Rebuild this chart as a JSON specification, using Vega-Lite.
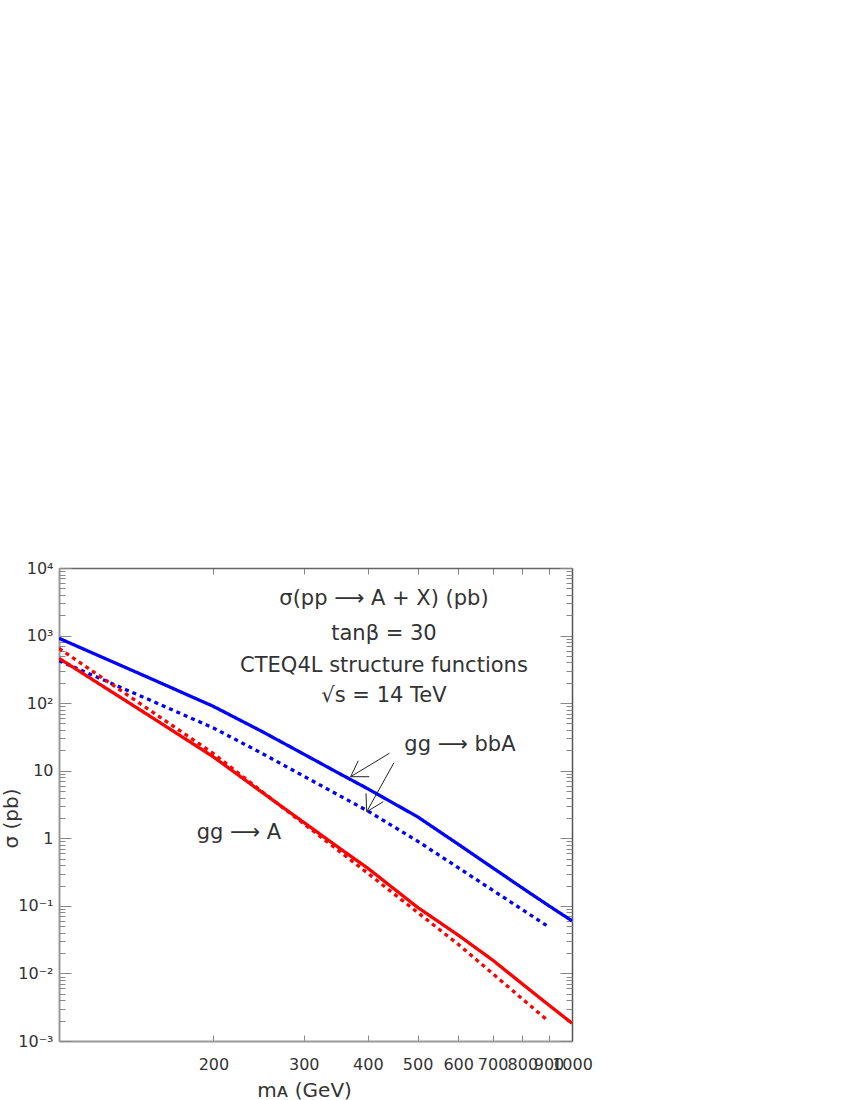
{
  "$schema": "https://vega.github.io/schema/vega-lite/v6.json",
  "width": 513,
  "height": 473,
  "autosize": {"type": "none"},
  "padding": {"left": 59, "top": 568, "right": 278, "bottom": 59},
  "background": "white",
  "config": {
    "view": {"stroke": null},
    "font": "DejaVu Sans",
    "axis": {"grid": false, "labelFont": "DejaVu Sans", "titleFont": "DejaVu Sans"}
  },
  "datasets": {
    "curves": [
      {"series": "bbA_total", "process": "bbA", "style": "solid", "m": 100, "s": 912},
      {"series": "bbA_total", "process": "bbA", "style": "solid", "m": 150, "s": 236},
      {"series": "bbA_total", "process": "bbA", "style": "solid", "m": 200, "s": 89.5},
      {"series": "bbA_total", "process": "bbA", "style": "solid", "m": 250, "s": 37.3},
      {"series": "bbA_total", "process": "bbA", "style": "solid", "m": 300, "s": 17.6},
      {"series": "bbA_total", "process": "bbA", "style": "solid", "m": 350, "s": 9.3},
      {"series": "bbA_total", "process": "bbA", "style": "solid", "m": 400, "s": 5.4},
      {"series": "bbA_total", "process": "bbA", "style": "solid", "m": 500, "s": 2.08},
      {"series": "bbA_total", "process": "bbA", "style": "solid", "m": 600, "s": 0.817},
      {"series": "bbA_total", "process": "bbA", "style": "solid", "m": 700, "s": 0.367},
      {"series": "bbA_total", "process": "bbA", "style": "solid", "m": 800, "s": 0.184},
      {"series": "bbA_total", "process": "bbA", "style": "solid", "m": 900, "s": 0.101},
      {"series": "bbA_total", "process": "bbA", "style": "solid", "m": 1000, "s": 0.06},
      {"series": "bbA_dot", "process": "bbA", "style": "dotted", "m": 100, "s": 425},
      {"series": "bbA_dot", "process": "bbA", "style": "dotted", "m": 150, "s": 112},
      {"series": "bbA_dot", "process": "bbA", "style": "dotted", "m": 200, "s": 42.9},
      {"series": "bbA_dot", "process": "bbA", "style": "dotted", "m": 250, "s": 17.7},
      {"series": "bbA_dot", "process": "bbA", "style": "dotted", "m": 300, "s": 8.3},
      {"series": "bbA_dot", "process": "bbA", "style": "dotted", "m": 350, "s": 4.39},
      {"series": "bbA_dot", "process": "bbA", "style": "dotted", "m": 400, "s": 2.53},
      {"series": "bbA_dot", "process": "bbA", "style": "dotted", "m": 500, "s": 0.908},
      {"series": "bbA_dot", "process": "bbA", "style": "dotted", "m": 600, "s": 0.367},
      {"series": "bbA_dot", "process": "bbA", "style": "dotted", "m": 700, "s": 0.171},
      {"series": "bbA_dot", "process": "bbA", "style": "dotted", "m": 800, "s": 0.088},
      {"series": "bbA_dot", "process": "bbA", "style": "dotted", "m": 900, "s": 0.049},
      {"series": "A_total", "process": "A", "style": "solid", "m": 100, "s": 461},
      {"series": "A_total", "process": "A", "style": "solid", "m": 150, "s": 65},
      {"series": "A_total", "process": "A", "style": "solid", "m": 200, "s": 16.0},
      {"series": "A_total", "process": "A", "style": "solid", "m": 250, "s": 4.66},
      {"series": "A_total", "process": "A", "style": "solid", "m": 300, "s": 1.72},
      {"series": "A_total", "process": "A", "style": "solid", "m": 350, "s": 0.738},
      {"series": "A_total", "process": "A", "style": "solid", "m": 400, "s": 0.36},
      {"series": "A_total", "process": "A", "style": "solid", "m": 500, "s": 0.095},
      {"series": "A_total", "process": "A", "style": "solid", "m": 600, "s": 0.0369},
      {"series": "A_total", "process": "A", "style": "solid", "m": 700, "s": 0.0158},
      {"series": "A_total", "process": "A", "style": "solid", "m": 800, "s": 0.007},
      {"series": "A_total", "process": "A", "style": "solid", "m": 900, "s": 0.00343},
      {"series": "A_total", "process": "A", "style": "solid", "m": 1000, "s": 0.00183},
      {"series": "A_dot", "process": "A", "style": "dotted", "m": 100, "s": 648},
      {"series": "A_dot", "process": "A", "style": "dotted", "m": 150, "s": 79.4},
      {"series": "A_dot", "process": "A", "style": "dotted", "m": 200, "s": 17.9},
      {"series": "A_dot", "process": "A", "style": "dotted", "m": 250, "s": 4.77},
      {"series": "A_dot", "process": "A", "style": "dotted", "m": 300, "s": 1.64},
      {"series": "A_dot", "process": "A", "style": "dotted", "m": 350, "s": 0.664},
      {"series": "A_dot", "process": "A", "style": "dotted", "m": 400, "s": 0.303},
      {"series": "A_dot", "process": "A", "style": "dotted", "m": 500, "s": 0.08},
      {"series": "A_dot", "process": "A", "style": "dotted", "m": 600, "s": 0.027},
      {"series": "A_dot", "process": "A", "style": "dotted", "m": 700, "s": 0.01},
      {"series": "A_dot", "process": "A", "style": "dotted", "m": 800, "s": 0.0042},
      {"series": "A_dot", "process": "A", "style": "dotted", "m": 890, "s": 0.00211}
    ],
    "infotext": [
      {"m": 430, "s": 2834, "label": "σ(pp  ⟶  A + X) (pb)"},
      {"m": 430, "s": 860, "label": "tanβ = 30"},
      {"m": 430, "s": 292, "label": "CTEQ4L structure functions"},
      {"m": 430, "s": 105, "label": "√s = 14 TeV"}
    ],
    "proclabels": [
      {"m": 604.7, "s": 19.6, "label": "gg  ⟶  bbA"},
      {"m": 224.3, "s": 0.976, "label": "gg  ⟶  A"}
    ],
    "arrows": [
      {"m1": 440.5, "s1": 18.1, "m2": 370.3, "s2": 8.15},
      {"m1": 370.3, "s1": 8.15, "m2": 383.1, "s2": 14.06},
      {"m1": 370.3, "s1": 8.15, "m2": 402.6, "s2": 8.15},
      {"m1": 449.8, "s1": 13.14, "m2": 397.9, "s2": 2.47},
      {"m1": 397.9, "s1": 2.47, "m2": 396.7, "s2": 4.63},
      {"m1": 397.9, "s1": 2.47, "m2": 428.7, "s2": 3.48}
    ]
  },
  "layer": [
    {
      "data": {"name": "curves"},
      "mark": {"type": "line", "strokeWidth": 3.3, "clip": true},
      "encoding": {
        "x": {
          "field": "m", "type": "quantitative",
          "scale": {"type": "log", "domain": [100, 1000], "nice": false},
          "axis": {
            "orient": "bottom",
            "values": [200, 300, 400, 500, 600, 700, 800, 900, 1000],
            "format": "d",
            "labelOverlap": false,
            "labelFlush": false,
            "labelFontSize": 16,
            "labelColor": "#333",
            "labelPadding": 21,
            "tickSize": -6,
            "tickColor": "#888",
            "tickWidth": 1,
            "domainColor": "#999",
            "domainWidth": 2,
            "title": "mᴀ (GeV)",
            "titleFontSize": 20,
            "titleFontWeight": "normal",
            "titleColor": "#333",
            "titlePadding": 8,
            "titleX": 245
          }
        },
        "y": {
          "field": "s", "type": "quantitative",
          "scale": {"type": "log", "domain": [0.001, 10000], "nice": false},
          "axis": {
            "orient": "left",
            "values": [0.001, 0.01, 0.1, 1, 10, 100, 1000, 10000],
            "labelExpr": "datum.value >= 5000 ? '10⁴' : datum.value >= 500 ? '10³' : datum.value >= 50 ? '10²' : datum.value >= 5 ? '10' : datum.value >= 0.5 ? '1' : datum.value >= 0.05 ? '10⁻¹' : datum.value >= 0.005 ? '10⁻²' : '10⁻³'",
            "labelOverlap": false,
            "labelFlush": false,
            "labelFontSize": 16,
            "labelColor": "#333",
            "labelPadding": 18,
            "tickSize": -12,
            "tickColor": "#888",
            "tickWidth": 1,
            "domainColor": "#999",
            "domainWidth": 2,
            "title": "σ (pb)",
            "titleFontSize": 20,
            "titleFontWeight": "normal",
            "titleColor": "#333",
            "titleBaseline": "middle",
            "titleX": -48,
            "titleY": 250
          }
        },
        "color": {"field": "process", "type": "nominal", "scale": {"domain": ["bbA", "A"], "range": ["#0000ff", "#ff0000"]}, "legend": null},
        "strokeDash": {"field": "style", "type": "nominal", "scale": {"domain": ["solid", "dotted"], "range": [[1, 0], [4, 4]]}, "legend": null},
        "detail": {"field": "series", "type": "nominal"}
      }
    },
    {
      "data": {"name": "infotext"},
      "mark": {"type": "text", "align": "center", "baseline": "alphabetic", "fontSize": 21, "color": "#333"},
      "encoding": {
        "x": {
          "field": "m", "type": "quantitative",
          "scale": {"type": "log", "domain": [100, 1000], "nice": false},
          "axis": {
            "orient": "top",
            "values": [200, 300, 400, 500, 600, 700, 800, 900],
            "labels": false,
            "tickSize": -6,
            "tickColor": "#888",
            "tickWidth": 1,
            "domainColor": "#666",
            "domainWidth": 1.5,
            "title": null
          }
        },
        "y": {
          "field": "s", "type": "quantitative",
          "scale": {"type": "log", "domain": [0.001, 10000], "nice": false},
          "axis": {
            "orient": "left",
            "values": [0.002, 0.003, 0.004, 0.005, 0.006, 0.007, 0.008, 0.009, 0.02, 0.03, 0.04, 0.05, 0.06, 0.07, 0.08, 0.09, 0.2, 0.3, 0.4, 0.5, 0.6, 0.7, 0.8, 0.9, 2, 3, 4, 5, 6, 7, 8, 9, 20, 30, 40, 50, 60, 70, 80, 90, 200, 300, 400, 500, 600, 700, 800, 900, 2000, 3000, 4000, 5000, 6000, 7000, 8000, 9000],
            "labels": false,
            "domain": false,
            "tickSize": -6,
            "tickColor": "#888",
            "tickWidth": 1,
            "title": null
          }
        },
        "text": {"field": "label", "type": "nominal"}
      }
    },
    {
      "data": {"name": "proclabels"},
      "mark": {"type": "text", "align": "center", "baseline": "alphabetic", "fontSize": 21, "color": "#333"},
      "encoding": {
        "x": {
          "field": "m", "type": "quantitative",
          "scale": {"type": "log", "domain": [100, 1000], "nice": false},
          "axis": null
        },
        "y": {
          "field": "s", "type": "quantitative",
          "scale": {"type": "log", "domain": [0.001, 10000], "nice": false},
          "axis": {
            "orient": "right",
            "values": [0.001, 0.01, 0.1, 1, 10, 100, 1000, 10000],
            "labels": false,
            "tickSize": -12,
            "tickColor": "#888",
            "tickWidth": 1,
            "domainColor": "#555",
            "domainWidth": 1.5,
            "title": null
          }
        },
        "text": {"field": "label", "type": "nominal"}
      }
    },
    {
      "data": {"name": "arrows"},
      "mark": {"type": "rule", "strokeWidth": 1, "color": "#222"},
      "encoding": {
        "x": {
          "field": "m1", "type": "quantitative",
          "scale": {"type": "log", "domain": [100, 1000], "nice": false},
          "axis": null
        },
        "x2": {"field": "m2"},
        "y": {
          "field": "s1", "type": "quantitative",
          "scale": {"type": "log", "domain": [0.001, 10000], "nice": false},
          "axis": {
            "orient": "right",
            "values": [0.002, 0.003, 0.004, 0.005, 0.006, 0.007, 0.008, 0.009, 0.02, 0.03, 0.04, 0.05, 0.06, 0.07, 0.08, 0.09, 0.2, 0.3, 0.4, 0.5, 0.6, 0.7, 0.8, 0.9, 2, 3, 4, 5, 6, 7, 8, 9, 20, 30, 40, 50, 60, 70, 80, 90, 200, 300, 400, 500, 600, 700, 800, 900, 2000, 3000, 4000, 5000, 6000, 7000, 8000, 9000],
            "labels": false,
            "domain": false,
            "tickSize": -6,
            "tickColor": "#888",
            "tickWidth": 1,
            "title": null
          }
        },
        "y2": {"field": "s2"}
      }
    }
  ],
  "resolve": {"axis": {"x": "independent", "y": "independent"}}
}
